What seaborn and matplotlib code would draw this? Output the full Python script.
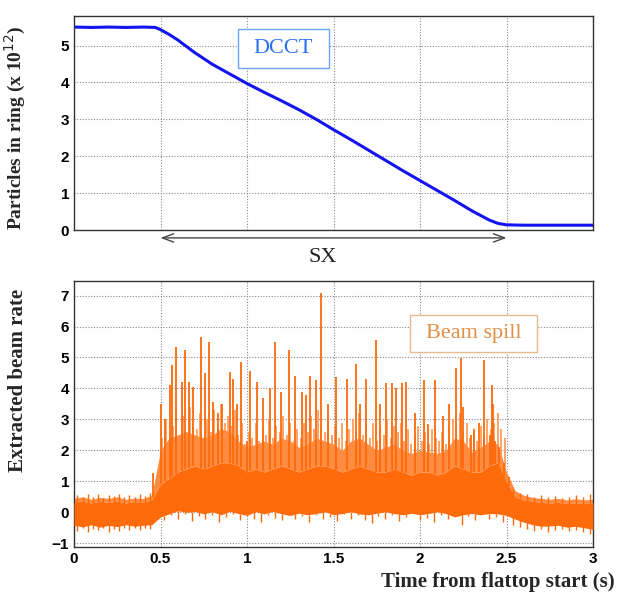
import numpy as np
import pandas as pd
import matplotlib
matplotlib.use("Agg")
import matplotlib.pyplot as plt
from matplotlib.ticker import MultipleLocator
from matplotlib.patches import Rectangle
import seaborn as sns

# ---------------- data ----------------
dcct_t = [0, 0.1, 0.2, 0.3, 0.4, 0.47, 0.5, 0.55, 0.6, 0.7, 0.8, 0.9, 1.0, 1.1, 1.2,
          1.3, 1.4, 1.5, 1.6, 1.7, 1.8, 1.9, 2.0, 2.1, 2.2, 2.3, 2.4, 2.45, 2.5, 2.6, 2.8, 3.0]
dcct_n = [5.50, 5.49, 5.50, 5.49, 5.50, 5.49, 5.43, 5.30, 5.15, 4.80, 4.49, 4.23, 3.97, 3.73, 3.50,
          3.26, 3.00, 2.72, 2.45, 2.17, 1.89, 1.61, 1.34, 1.07, 0.80, 0.52, 0.27, 0.18, 0.14, 0.13, 0.13, 0.13]

# beam spill: envelope of the dense noise band, every 0.05 s from 0 to 3
env_t = [round(0.05 * i, 2) for i in range(61)]
env_lo = [-0.42, -0.47, -0.40, -0.48, -0.42, -0.46, -0.40, -0.45, -0.42, -0.40,
          -0.15, -0.05, 0.05, 0.00, 0.03, -0.05, 0.02, -0.08, 0.03, -0.04,
          -0.10, 0.02, -0.05, 0.03, -0.05, -0.10, -0.03, -0.08, -0.04, 0.02,
          -0.08, -0.04, 0.02, -0.05, -0.08, -0.03, 0.02, -0.04, -0.08, -0.03,
          -0.08, -0.04, 0.02, -0.04, -0.15, -0.08, -0.04, -0.08, -0.04, -0.05,
          -0.10, -0.22, -0.32, -0.40, -0.45, -0.44, -0.42, -0.48, -0.45, -0.50, -0.55]
env_core = [0.32, 0.36, 0.30, 0.35, 0.32, 0.36, 0.30, 0.35, 0.32, 0.40,
            0.90, 1.10, 1.30, 1.40, 1.50, 1.40, 1.50, 1.60, 1.60, 1.50,
            1.30, 1.40, 1.30, 1.40, 1.50, 1.40, 1.30, 1.40, 1.50, 1.50,
            1.40, 1.30, 1.40, 1.50, 1.40, 1.30, 1.30, 1.40, 1.30, 1.20,
            1.30, 1.30, 1.20, 1.30, 1.50, 1.40, 1.30, 1.30, 1.50, 1.60,
            1.00, 0.50, 0.40, 0.36, 0.32, 0.30, 0.32, 0.28, 0.30, 0.28, 0.30]
env_hi = [0.45, 0.50, 0.42, 0.48, 0.45, 0.50, 0.42, 0.46, 0.45, 0.55,
          2.00, 2.40, 2.50, 2.60, 2.50, 2.40, 2.50, 2.70, 2.60, 2.30,
          2.10, 2.20, 2.30, 2.20, 2.40, 2.30, 2.10, 2.20, 2.40, 2.30,
          2.20, 2.00, 2.30, 2.40, 2.20, 2.00, 2.10, 2.20, 2.00, 1.90,
          2.00, 1.95, 1.90, 2.00, 2.40, 2.30, 1.95, 2.10, 2.30, 2.20,
          1.30, 0.70, 0.55, 0.48, 0.45, 0.42, 0.45, 0.40, 0.44, 0.40, 0.42]

# individual tall spikes (time, peak height)
spike_t = [0.458, 0.500, 0.526, 0.555, 0.568, 0.588, 0.622, 0.643, 0.663, 0.690,
           0.734, 0.755, 0.782, 0.805, 0.834, 0.854, 0.902, 0.921, 0.944, 0.963,
           0.998, 1.020, 1.056, 1.090, 1.133, 1.164, 1.195, 1.240, 1.277, 1.316,
           1.341, 1.364, 1.397, 1.426, 1.470, 1.514, 1.576, 1.628, 1.653, 1.690,
           1.746, 1.769, 1.803, 1.836, 1.859, 1.894, 1.919, 1.970, 2.023, 2.048,
           2.087, 2.135, 2.170, 2.208, 2.237, 2.250, 2.293, 2.312, 2.341, 2.370,
           2.405, 2.414, 2.424, 2.434, 2.458, 2.486, 2.516]
spike_h = [1.26, 3.50, 3.00, 4.10, 4.76, 5.35, 4.20, 5.24, 4.22, 4.06,
           5.67, 4.49, 5.51, 3.57, 3.20, 3.50, 4.54, 4.30, 3.50, 4.87,
           2.30, 4.56, 4.20, 3.70, 4.00, 5.50, 3.90, 5.24, 4.40, 3.90,
           3.80, 4.40, 4.27, 7.07, 3.50, 4.38, 4.30, 4.80, 3.50, 4.30,
           5.57, 3.50, 4.17, 4.17, 4.00, 4.17, 4.20, 3.20, 4.27, 2.85,
           4.27, 3.10, 3.50, 4.65, 4.97, 3.40, 2.50, 2.70, 2.90, 4.92,
           2.50, 4.11, 3.50, 2.30, 2.10, 1.58, 1.15]

# the dense "forest" of smaller peaks during the spill, every 0.02 s
forest_t = [round(0.51 + 0.02 * i, 2) for i in range(100)]
forest_h = [2.4, 3.0, 2.2, 2.8, 3.3, 2.5, 3.1, 2.6, 3.4, 2.9,
            2.7, 3.2, 2.4, 3.0, 2.6, 3.3, 2.8, 3.5, 2.9, 3.1,
            2.8, 3.3, 2.5, 2.9, 2.2, 2.6, 2.4, 2.9, 2.3, 2.7,
            2.5, 3.0, 2.4, 2.8, 2.6, 3.1, 2.5, 2.9, 2.3, 2.7,
            2.4, 2.9, 2.6, 3.1, 2.7, 3.3, 2.8, 2.6, 3.0, 2.5,
            2.8, 2.4, 2.9, 2.3, 2.7, 3.0, 2.6, 3.2, 2.5, 2.8,
            2.4, 2.9, 2.3, 2.7, 2.5, 3.0, 2.4, 2.8, 2.6, 2.9,
            2.3, 2.7, 2.2, 2.5, 2.8, 2.3, 2.6, 2.2, 2.7, 2.4,
            2.3, 2.6, 2.2, 2.8, 3.0, 2.7, 3.2, 2.6, 2.9, 2.4,
            2.6, 2.3, 2.8, 2.5, 3.0, 2.7, 2.9, 3.2, 2.7, 2.4]
# dips below the band during the spill, every 0.04 s
dip_t = [round(0.52 + 0.04 * i, 2) for i in range(50)]
dip_y = [-0.25, -0.10, -0.20, -0.05, -0.28, -0.12, -0.22, -0.08, -0.30, -0.15,
         -0.05, -0.25, -0.10, -0.20, -0.32, -0.08, -0.18, -0.25, -0.05, -0.22,
         -0.12, -0.30, -0.08, -0.20, -0.15, -0.28, -0.05, -0.22, -0.10, -0.25,
         -0.35, -0.12, -0.20, -0.08, -0.28, -0.15, -0.05, -0.25, -0.18, -0.30,
         -0.10, -0.22, -0.15, -0.40, -0.12, -0.25, -0.08, -0.20, -0.15, -0.30]
# jitter of the baseline before and after the spill
base_t = [0.02, 0.05, 0.08, 0.11, 0.14, 0.17, 0.20, 0.23, 0.26, 0.29, 0.32, 0.35, 0.38, 0.41, 0.44,
          2.54, 2.58, 2.62, 2.66, 2.70, 2.74, 2.78, 2.82, 2.86, 2.90, 2.94, 2.98]
base_hi = [0.55, 0.48, 0.60, 0.50, 0.58, 0.45, 0.55, 0.52, 0.60, 0.48, 0.56, 0.50, 0.58, 0.52, 0.62,
           0.75, 0.62, 0.58, 0.50, 0.55, 0.48, 0.52, 0.45, 0.50, 0.55, 0.48, 0.58]
base_lo = [-0.60, -0.52, -0.65, -0.55, -0.58, -0.50, -0.62, -0.55, -0.60, -0.52, -0.58, -0.50, -0.56, -0.52, -0.55,
           -0.40, -0.48, -0.55, -0.60, -0.55, -0.62, -0.58, -0.55, -0.60, -0.58, -0.65, -0.70]

x_ticks = [0, 0.5, 1, 1.5, 2, 2.5, 3]
x_tick_labels = ["0", "0.5", "1", "1.5", "2", "2.5", "3"]

# ---------------- styling ----------------
sns.set_style("white")
plt.rcParams["font.family"] = ["Liberation Sans", "DejaVu Sans"]

W, H = 630, 599
fig = plt.figure(figsize=(W / 100, H / 100), dpi=100)

def frac(x0, y0, x1, y1):
    return [x0 / W, 1 - y1 / H, (x1 - x0) / W, (y1 - y0) / H]

ax1 = fig.add_axes(frac(74, 16, 593, 230))
ax2 = fig.add_axes(frac(74, 281, 593, 547))

blue = "#1414f0"
orange = "#ff6a0a"
light_orange = "#ff8c40"

def style_axis(ax):
    ax.set_axisbelow(True)
    ax.grid(True, which="major", ls=(0, (1, 1.5)), color="#8a8a8a", lw=0.8)
    for s in ax.spines.values():
        s.set_color("#333333")
        s.set_linewidth(1.0)
    ax.tick_params(which="both", direction="in", top=False, right=False,
                   colors="#333333", labelcolor="black")
    ax.tick_params(which="major", length=7, width=1)
    ax.tick_params(which="minor", length=3.5, width=0.8)
    ax.xaxis.set_minor_locator(MultipleLocator(0.1))
    ax.yaxis.set_minor_locator(MultipleLocator(0.2))
    ax.set_xlim(0, 3)
    ax.set_xticks(x_ticks)
    for lab in ax.get_yticklabels() + ax.get_xticklabels():
        lab.set_fontweight("bold")
        lab.set_fontsize(11)

# ---------- top panel ----------
df_dcct = pd.DataFrame({"t": dcct_t, "n": dcct_n})
sns.lineplot(data=df_dcct, x="t", y="n", ax=ax1, color=blue, lw=2.2)
ax1.set_ylim(0, 5.8)
ax1.set_yticks([0, 1, 2, 3, 4, 5])
style_axis(ax1)
ax1.set_xticklabels([])
ax1.set_xlabel("")
ax1.set_ylabel("Particles in ring (x 10$^{12}$)", family="Liberation Serif",
               fontweight="bold", fontsize=14)
ax1.yaxis.set_label_coords(-0.088, 0.48)

ax1.add_patch(Rectangle((0.948, 4.39), 0.526, 1.065, fill=True, fc="white",
                        ec="#6aa6ff", lw=1.0, zorder=5))
ax1.text(1.211, 4.92, "DCCT", ha="center", va="center", color="#2a70f0",
         family="Liberation Serif", fontsize=16, zorder=6)

# SX arrow below top panel
ax1.annotate("", xy=(0.5, -0.037), xytext=(2.5, -0.037),
             xycoords=("data", "axes fraction"), textcoords=("data", "axes fraction"),
             arrowprops=dict(arrowstyle="<->,head_length=0.8,head_width=0.3",
                             color="#444444", lw=1.0, shrinkA=0, shrinkB=0),
             annotation_clip=False)
ax1.text(1.435, -0.13, "SX", transform=ax1.get_xaxis_transform(), ha="center",
         va="center", family="Liberation Serif", fontsize=16, color="#222222")

# ---------- bottom panel ----------
ax2.fill_between(env_t, env_core, env_hi, color=light_orange, lw=0, zorder=2)
ax2.fill_between(env_t, env_lo, env_core, color=orange, lw=0, zorder=3)
forest_base = np.interp(forest_t, env_t, env_core)
ax2.vlines(forest_t, forest_base, forest_h, color=light_orange, lw=1.1, zorder=2)
dip_top = np.interp(dip_t, env_t, env_lo)
ax2.vlines(dip_t, dip_y, dip_top, color=orange, lw=1.0, zorder=3)
ax2.vlines(base_t, base_lo, base_hi, color=orange, lw=1.0, zorder=3)
core_at_spike = np.interp(spike_t, env_t, env_core)
ax2.vlines(spike_t, core_at_spike, spike_h, color=orange, lw=1.3, zorder=3)
ax2.set_ylim(-1.12, 7.47)
ax2.set_yticks(list(range(-1, 8)))
style_axis(ax2)
ax2.set_xticklabels(x_tick_labels)
for lab in ax2.get_xticklabels():
    lab.set_fontweight("bold")
    lab.set_fontsize(11)
ax2.set_ylabel("Extracted beam rate", family="Liberation Serif",
               fontweight="bold", fontsize=15)
ax2.yaxis.set_label_coords(-0.088, 0.628)

ax2.add_patch(Rectangle((1.942, 5.18), 0.734, 1.19, fill=True, fc="white",
                        ec="#eab98a", lw=1.0, zorder=5))
ax2.text(2.309, 5.76, "Beam spill", ha="center", va="center", color="#e38f45",
         family="Liberation Serif", fontsize=16, zorder=6)

fig.text(615 / W, 1 - 582 / H, "Time from flattop start (s)", ha="right", va="center",
         family="Liberation Serif", fontweight="bold", fontsize=15)

fig.savefig("out.png", dpi=100)
